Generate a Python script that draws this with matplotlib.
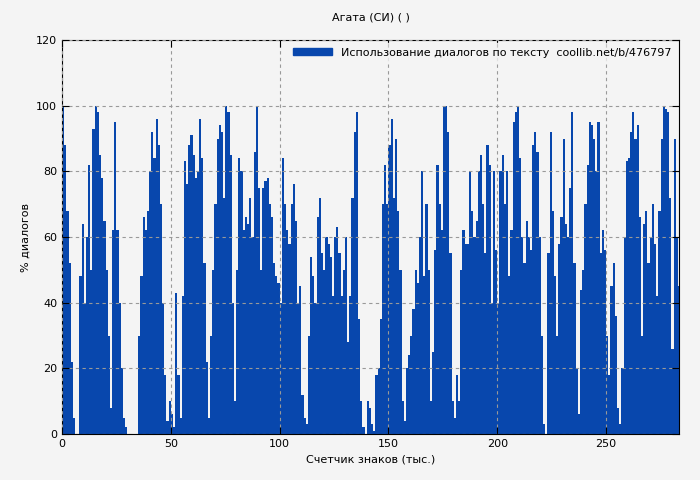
import matplotlib
matplotlib.use("Agg")
import matplotlib.pyplot as plt
from matplotlib.patches import Patch

# percent of dialogue per 1k characters
values = [
    100, 88, 68, 52, 22, 5, 0, 0, 48, 64, 40, 60, 82, 50, 93, 100, 98, 85, 78, 65,
    50, 30, 8, 62, 95, 62, 40, 20, 5, 2, 0, 0, 0, 0, 0, 30, 48, 66, 62, 68,
    80, 92, 84, 96, 88, 70, 40, 18, 4, 10, 6, 2, 43, 18, 5, 42, 83, 76, 88, 91,
    85, 78, 80, 96, 84, 52, 22, 5, 30, 50, 70, 90, 94, 92, 72, 100, 98, 85, 40, 10,
    50, 84, 80, 62, 66, 64, 72, 60, 86, 100, 75, 50, 75, 77, 78, 70, 66, 52, 48, 46,
    40, 84, 70, 62, 58, 70, 76, 65, 40, 45, 12, 5, 3, 30, 54, 48, 40, 66, 72, 55,
    50, 60, 58, 54, 42, 60, 63, 55, 42, 50, 60, 28, 42, 72, 92, 98, 35, 10, 2, 0,
    10, 8, 3, 1, 18, 20, 35, 70, 82, 70, 88, 96, 72, 90, 68, 50, 10, 4, 20, 24,
    30, 38, 50, 46, 60, 80, 48, 70, 50, 10, 25, 56, 82, 70, 62, 100, 100, 92, 55, 10,
    5, 18, 10, 50, 62, 58, 58, 80, 68, 60, 65, 80, 85, 70, 55, 88, 82, 40, 80, 56,
    40, 80, 85, 70, 80, 48, 62, 95, 98, 100, 84, 60, 52, 65, 60, 56, 88, 92, 86, 60,
    30, 3, 0, 55, 92, 68, 48, 30, 58, 66, 90, 64, 60, 75, 98, 52, 20, 6, 44, 50,
    70, 82, 95, 94, 90, 80, 95, 55, 62, 56, 30, 18, 45, 52, 36, 8, 3, 20, 60, 83,
    84, 92, 98, 90, 94, 66, 30, 64, 68, 52, 60, 70, 58, 42, 68, 90, 100, 99, 98, 72,
    26, 90, 60, 45,
]
positions = list(range(len(values)))
x_ticks = [0, 50, 100, 150, 200, 250]
y_ticks = [0, 20, 40, 60, 80, 100, 120]

bg = "#f4f4f4"
blue = "#0847ad"

fig = plt.figure(figsize=(7, 4.8), dpi=100)
fig.patch.set_facecolor(bg)
ax = fig.add_axes([62 / 700, 46 / 480, 617 / 700, 394 / 480])
ax.set_facecolor(bg)

ax.bar(positions, values, width=1.0, align="edge", color=blue, linewidth=0)

ax.set_xlim(0, 283.5)
ax.set_ylim(0, 120)
ax.set_xticks(x_ticks)
ax.set_yticks(y_ticks)
ax.grid(True, color="#999999", linestyle=(0, (3, 3)), linewidth=0.8)
ax.set_axisbelow(False)
for sp in ax.spines.values():
    sp.set_color("black")
ax.tick_params(direction="in", top=True, right=True, labelsize=8, length=5)

ax.set_xlabel("Счетчик знаков (тыс.)", fontsize=8)
ax.set_ylabel("% диалогов", fontsize=8)
ax.set_title("Агата (СИ) ( )", fontsize=8, pad=14)

leg = ax.legend([Patch(color=blue)], ["Использование диалогов по тексту  coollib.net/b/476797"],
                loc="upper right", fontsize=8, frameon=True, handlelength=3.5,
                handleheight=0.6, borderaxespad=0.3)
leg.get_frame().set_facecolor(bg)
leg.get_frame().set_edgecolor(bg)
leg._legend_box.align = "right"
leg.get_texts()[0].set_ha("right")

fig.savefig("out.png", dpi=100, facecolor=bg)
